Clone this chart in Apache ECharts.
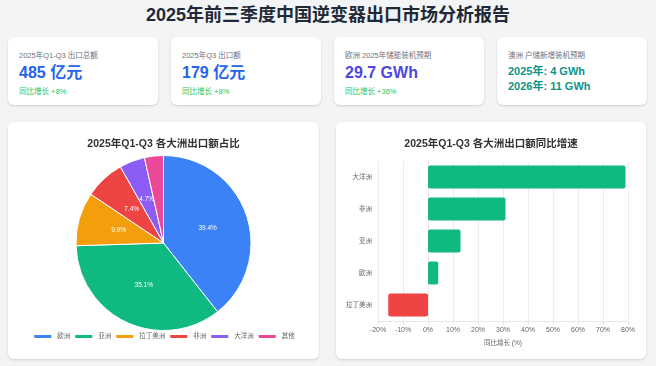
<!DOCTYPE html>
<html>
<head>
<meta charset="utf-8">
<script src="https://cdn.jsdelivr.net/npm/echarts@6/dist/echarts.min.js"></script>
<style>
  html, body { margin:0; padding:0; width:656px; height:366px; background:#f3f4f6; overflow:hidden;
    font-family: "Liberation Sans", "Noto Sans CJK SC", sans-serif; }
  #title { position:absolute; left:0; top:4px; width:656px; text-align:center; font-size:18px; font-weight:bold; color:#1f2937; line-height:22px; }
  .card { position:absolute; background:#fff; border-radius:6px; box-shadow:0 1px 3px rgba(0,0,0,0.10), 0 1px 2px rgba(0,0,0,0.06); }
  .kpi { top:37px; width:150px; height:68px; }
  .kpi .lab { position:absolute; left:11px; top:12px; font-size:7.5px; color:#6b7280; white-space:nowrap; }
  .kpi .val { position:absolute; left:11px; top:26px; font-size:16px; font-weight:bold; white-space:nowrap; line-height:20px; }
  .kpi .gr { position:absolute; left:11px; top:48px; font-size:7.5px; color:#22c55e; white-space:nowrap; }
  .kpi .l2 { position:absolute; left:11px; font-size:11px; font-weight:bold; color:#0d9488; white-space:nowrap; line-height:14px; }
  .chartcard { top:122px; height:237px; }
  .chart { position:absolute; left:0; top:0; width:100%; height:100%; }
</style>
</head>
<body>
<div id="title">2025年前三季度中国逆变器出口市场分析报告</div>

<div class="card kpi" style="left:8px;">
  <div class="lab">2025年Q1-Q3 出口总额</div>
  <div class="val" style="color:#2563eb;">485 亿元</div>
  <div class="gr">同比增长 +8%</div>
</div>
<div class="card kpi" style="left:171px;">
  <div class="lab">2025年Q3 出口额</div>
  <div class="val" style="color:#2563eb;">179 亿元</div>
  <div class="gr">同比增长 +8%</div>
</div>
<div class="card kpi" style="left:334px;">
  <div class="lab">欧洲 2025年储能装机预期</div>
  <div class="val" style="color:#4f46e5;">29.7 GWh</div>
  <div class="gr">同比增长 +36%</div>
</div>
<div class="card kpi" style="left:497px;">
  <div class="lab">澳洲 户储新增装机预期</div>
  <div class="l2" style="top:27px;">2025年: 4 GWh</div>
  <div class="l2" style="top:42px;">2026年: 11 GWh</div>
</div>

<div class="card chartcard" style="left:8px; width:311px;"><div id="pie" class="chart"></div></div>
<div class="card chartcard" style="left:336px; width:310px;"><div id="bar" class="chart"></div></div>

<script>
// ---- data ----
var pieCategories = ["欧洲", "亚洲", "拉丁美洲", "非洲", "大洋洲", "其他"];
var pieValues = [39.4, 35.1, 9.9, 7.4, 4.7, 3.5];
var pieColors = ["#3b82f6", "#10b981", "#f59e0b", "#ef4444", "#8b5cf6", "#ec4899"];

var barCategories = ["拉丁美洲", "欧洲", "亚洲", "非洲", "大洋洲"];
var barValues = [-15.9, 4.1, 13, 31, 79];
var xTicksMin = -20, xTicksMax = 80, xTickStep = 10;

var FONT = '"Liberation Sans", "Noto Sans CJK SC", sans-serif';

var pie = echarts.init(document.getElementById('pie'), null, {renderer:'canvas'});
pie.setOption({
  animation:false,
  textStyle:{fontFamily:FONT},
  title:{text:"2025年Q1-Q3 各大洲出口额占比", left:'center', top:12,
    textStyle:{fontSize:10.5, fontWeight:'bold', color:'#333', fontFamily:FONT}},
  legend:{bottom:14, left:'center', icon:'rect', itemWidth:19, itemHeight:5, itemGap:3,
    textStyle:{fontSize:6.5, color:'#666', fontFamily:FONT},
    data:pieCategories},
  series:[{
    type:'pie', radius:[0, 87.5], center:[155.5, 121], startAngle:90, clockwise:true,
    itemStyle:{borderColor:'#fff', borderWidth:1},
    label:{show:true, position:'inside', formatter:'{c}%', color:'#fff', fontSize:6.5, fontFamily:FONT},
    labelLine:{show:false},
    data:pieCategories.map(function(n,i){return {name:n, value:pieValues[i], itemStyle:{color:pieColors[i]}};})
  }]
});

var bar = echarts.init(document.getElementById('bar'), null, {renderer:'canvas'});
bar.setOption({
  animation:false,
  textStyle:{fontFamily:FONT},
  title:{text:"2025年Q1-Q3 各大洲出口额同比增速", left:'center', top:12,
    textStyle:{fontSize:10.5, fontWeight:'bold', color:'#333', fontFamily:FONT}},
  grid:{left:42, right:18, top:39, bottom:38, containLabel:false},
  xAxis:{type:'value', min:xTicksMin, max:xTicksMax, interval:xTickStep,
    name:'同比增长 (%)', nameLocation:'middle', nameGap:19,
    nameTextStyle:{fontSize:6.5, color:'#666'},
    axisLabel:{formatter:'{value}%', fontSize:7, color:'#666', margin:6},
    axisLine:{show:true, lineStyle:{color:'#e5e7eb'}},
    axisTick:{show:true, length:4, lineStyle:{color:'#e5e7eb'}},
    splitLine:{show:true, lineStyle:{color:'#ececec'}}},
  yAxis:{type:'category', data:barCategories,
    axisLabel:{fontSize:6.5, color:'#666', margin:6},
    axisLine:{show:true, lineStyle:{color:'#e5e7eb'}},
    axisTick:{show:false},
    splitLine:{show:false}},
  series:[{type:'bar', barWidth:23,
    data:barValues.map(function(v){return {value:v, itemStyle:{color: v<0 ? '#ef4444' : '#10b981', borderRadius:2}};})
  }]
});
</script>
</body>
</html>
